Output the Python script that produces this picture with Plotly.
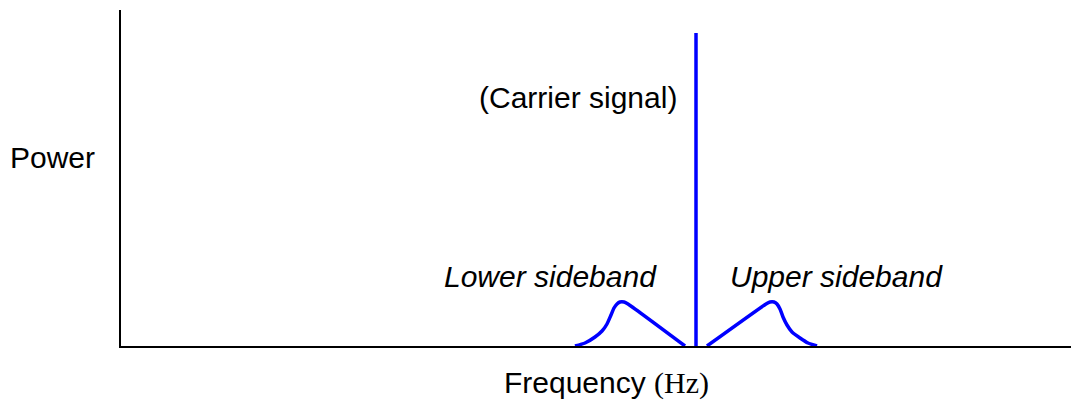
import plotly.graph_objects as go

# Frequency axis in arbitrary units, power normalised so the carrier is 313 units tall
freq_range = [0, 950]
power_range = [0, 336]

carrier_freq = 575
carrier_power = 313

lower_freq = [454, 464, 474, 481, 486, 490, 493, 496, 499, 503, 507, 564]
lower_power = [0, 3, 9, 15, 22, 31, 38, 42, 44, 44, 42, 0]

upper_freq = [586, 645, 649, 653, 656, 659, 662, 666, 671, 679, 687, 696]
upper_power = [0, 42, 44, 44, 42, 37, 29, 21, 14, 8, 3, 0]

BLUE = "#0000ff"
SANS = "Liberation Sans, Arial, sans-serif"
FS = 30

fig = go.Figure()

fig.add_trace(go.Scatter(x=[carrier_freq, carrier_freq], y=[0, carrier_power],
                         mode="lines", line=dict(color=BLUE, width=3.5), hoverinfo="skip"))
fig.add_trace(go.Scatter(x=lower_freq, y=lower_power, mode="lines",
                         line=dict(color=BLUE, width=3.5, shape="spline", smoothing=0.5),
                         hoverinfo="skip"))
fig.add_trace(go.Scatter(x=upper_freq, y=upper_power, mode="lines",
                         line=dict(color=BLUE, width=3.5, shape="spline", smoothing=0.5),
                         hoverinfo="skip"))

fig.add_annotation(x=558, y=249, xref="x", yref="y", text="(Carrier signal)",
                   showarrow=False, xanchor="right", yanchor="middle",
                   font=dict(family=SANS, size=FS, color="black"))
fig.add_annotation(x=429, y=70, xref="x", yref="y", text="<i>Lower sideband</i>",
                   showarrow=False, xanchor="center", yanchor="middle",
                   font=dict(family=SANS, size=FS, color="black"))
fig.add_annotation(x=715, y=70, xref="x", yref="y", text="<i>Upper sideband</i>",
                   showarrow=False, xanchor="center", yanchor="middle",
                   font=dict(family=SANS, size=FS, color="black"))
fig.add_annotation(x=-69 / 950, y=189, xref="paper", yref="y", text="Power",
                   showarrow=False, xanchor="center", yanchor="middle",
                   font=dict(family=SANS, size=FS, color="black"))
fig.add_annotation(x=485, y=-37 / 336, xref="x", yref="paper",
                   text='Frequency <span style="font-family:Liberation Serif, Times New Roman, serif">(Hz)</span>',
                   showarrow=False, xanchor="center", yanchor="middle",
                   font=dict(family=SANS, size=FS, color="black"))

fig.update_xaxes(range=freq_range, showline=True, linecolor="black", linewidth=2,
                 showgrid=False, zeroline=False, showticklabels=False, ticks="")
fig.update_yaxes(range=power_range, showline=True, linecolor="black", linewidth=2,
                 showgrid=False, zeroline=False, showticklabels=False, ticks="")

fig.update_layout(width=1071, height=405, margin=dict(l=121, r=0, t=10, b=59),
                  paper_bgcolor="white", plot_bgcolor="white", showlegend=False)

fig.write_html("out.html")
